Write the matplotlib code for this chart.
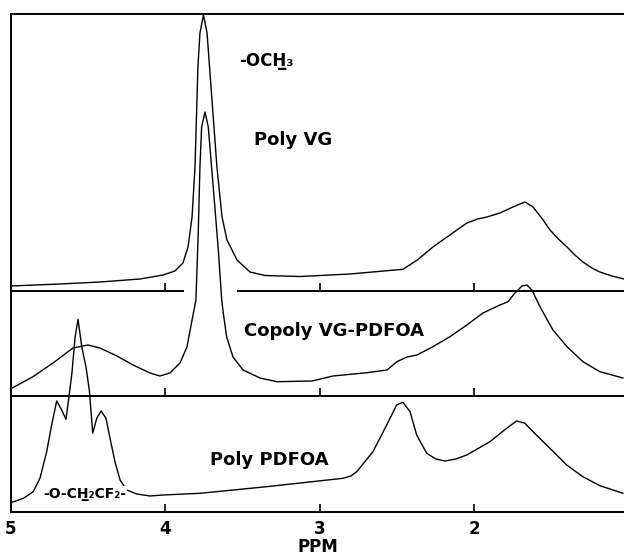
import numpy as np
import matplotlib
matplotlib.use("Agg")
import matplotlib.pyplot as plt

# 1H NMR traces (ppm, height above own baseline)
vg_ppm = [5.0, 4.683, 4.424, 4.165, 4.016, 3.939, 3.887, 3.854, 3.828, 3.809, 3.790,
          3.777, 3.754, 3.731, 3.699, 3.667, 3.634, 3.602, 3.537, 3.453, 3.356, 3.129,
          2.806, 2.463, 2.43, 2.37, 2.269, 2.15, 2.049, 1.98, 1.919, 1.835, 1.751, 1.673,
          1.621, 1.56, 1.511, 1.45, 1.401, 1.35, 1.298, 1.24, 1.188, 1.11, 1.032]
vg_int = [5, 7, 9, 12, 16, 20, 28, 44, 74, 124, 224,
          258, 276, 258, 191, 124, 74, 51, 31, 19, 15.5, 14.5,
          17, 21.7, 25, 31, 44, 57, 68, 72, 74, 78, 84, 89,
          84, 72, 61, 51, 44, 36, 29, 23, 19, 15, 12]

co_ppm = [4.995, 4.858, 4.728, 4.599, 4.502, 4.424, 4.314, 4.210, 4.100, 4.036, 3.971,
          3.906, 3.861, 3.828, 3.803, 3.788, 3.777, 3.766, 3.744, 3.723, 3.693, 3.658,
          3.636, 3.626, 3.604, 3.563, 3.498, 3.388, 3.278, 3.052, 2.916, 2.696, 2.566,
          2.502, 2.437, 2.372, 2.269, 2.159, 2.049, 1.945, 1.835, 1.783, 1.738, 1.692,
          1.660, 1.628, 1.576, 1.492, 1.401, 1.298, 1.188, 1.039]
co_int = [7.7, 19.3, 33, 48, 51, 48, 40, 31, 23, 20, 23,
          33, 49, 76, 96, 163, 229, 269, 284, 269, 213, 146,
          96, 83, 59, 39, 26, 18, 14.3, 15, 20, 23.3, 26,
          34.3, 39, 41, 49.3, 59.3, 71, 83, 91, 94.3, 103, 110,
          111, 106, 89.3, 66, 49.3, 34.3, 24.3, 18]

pd_ppm = [4.995, 4.920, 4.856, 4.812, 4.769, 4.737, 4.704, 4.672, 4.644, 4.625, 4.605,
          4.585, 4.566, 4.542, 4.515, 4.493, 4.471, 4.445, 4.417, 4.385, 4.359, 4.327,
          4.294, 4.251, 4.186, 4.100, 4.016, 3.777, 3.345, 2.851, 2.80, 2.762, 2.657, 2.568,
          2.504, 2.463, 2.417, 2.374, 2.309, 2.25, 2.191, 2.12, 2.050, 1.900, 1.792, 1.727,
          1.673, 1.621, 1.511, 1.403, 1.298, 1.188, 1.039]
pd_int = [9.7, 13.7, 20.3, 34, 60.3, 87, 111, 102, 92.7, 115, 140,
          175, 192.7, 165.3, 145.3, 122, 78.7, 93.7, 101, 93.7, 73.7, 50.3,
          32, 22, 18, 16, 17, 18.7, 25.3, 33.7, 36, 40.3, 60.3, 87,
          107, 109.7, 100.3, 77, 58.7, 53, 51, 53, 57, 70.3, 83.7, 91,
          88.7, 80.3, 63.7, 47, 35.3, 26.3, 18.7]

# stacking baselines
baselines = [0, 116, 221]
xticks = [5, 4, 3, 2]
xticklabels = ["5", "4", "3", "2"]

fig = plt.figure(figsize=(6.24, 5.6), dpi=100)
ax = fig.add_axes([11 / 624, 1 - 512 / 560, 613 / 624, 498 / 560])
ax.set_xlim(5, 1.032)
ax.set_ylim(0, 498)

lw = 1.0
ax.plot(pd_ppm, np.array(pd_int) + baselines[0], color="black", lw=lw)
ax.plot(co_ppm, np.array(co_int) + baselines[1], color="black", lw=lw)
ax.plot(vg_ppm, np.array(vg_int) + baselines[2], color="black", lw=lw)

# divider lines with small upward ticks
ax.hlines(baselines[1], 5, 1.032, color="black", lw=1.4)
ax.hlines(baselines[2], 5, 3.88, color="black", lw=1.4)
ax.hlines(baselines[2], 3.537, 1.032, color="black", lw=1.4)
for b in baselines[1:]:
    ax.vlines(xticks[1:], b, b + 8, color="black", lw=1.2)

ax.spines["right"].set_visible(False)
for s in ["left", "top", "bottom"]:
    ax.spines[s].set_linewidth(1.4)
ax.set_yticks([])
ax.set_xticks(xticks)
ax.set_xticklabels(xticklabels, fontsize=12, fontweight="bold")
ax.tick_params(axis="x", direction="in", length=6, width=1.2, pad=6)
ax.set_xlabel("PPM", fontsize=12, fontweight="bold", labelpad=0)

ax.text(3.350, 451, "-OCH\u0332\u2083", fontsize=12, fontweight="bold", ha="center", va="center")
ax.text(3.175, 372, "Poly VG", fontsize=13, fontweight="bold", ha="center", va="center")
ax.text(2.909, 181, "Copoly VG-PDFOA", fontsize=13, fontweight="bold", ha="center", va="center")
ax.text(3.330, 52, "Poly PDFOA", fontsize=13, fontweight="bold", ha="center", va="center")
ax.text(4.521, 18, "-O-CH\u0332\u2082CF\u2082-", fontsize=10, fontweight="bold", ha="center", va="center",
        bbox=dict(facecolor="white", edgecolor="none", pad=0.5))

plt.savefig("out.png", dpi=100)
